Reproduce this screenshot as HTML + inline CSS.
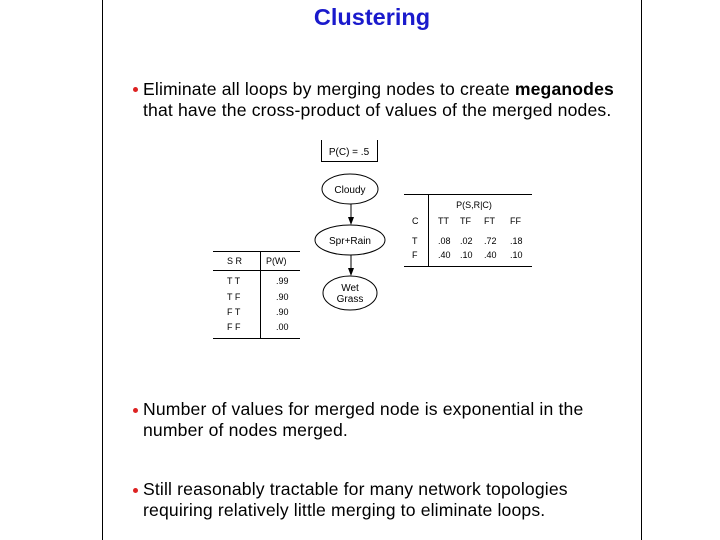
<!DOCTYPE html>
<html><head><style>
body{margin:0;width:720px;height:540px;background:#fff;position:relative;overflow:hidden;font-family:"Liberation Sans",sans-serif}
.vl{position:absolute;top:0;width:1px;height:540px;background:#000}
.t{position:absolute;white-space:nowrap;color:#000}
.b{position:absolute;font-size:17.6px;line-height:21px;left:143px;white-space:nowrap;letter-spacing:0.15px}
.dot{position:absolute;width:5px;height:5px;border-radius:50%;background:#d22;left:133px}
</style></head><body>
<div class="vl" style="left:102px"></div>
<div class="vl" style="left:641px"></div>
<div class="t" style="left:0;width:744px;text-align:center;top:4px;font-size:23.5px;font-weight:bold;color:#1a1acc">Clustering</div>
<div class="dot" style="top:87px"></div>
<div class="b" style="top:79px">Eliminate all loops by merging nodes to create <b>meganodes</b><br>that have the cross-product of values of the merged nodes.</div>
<div class="dot" style="top:408px"></div>
<div class="b" style="top:399px">Number of values for merged node is exponential in the<br>number of nodes merged.</div>
<div class="dot" style="top:488px"></div>
<div class="b" style="top:479px">Still reasonably tractable for many network topologies<br>requiring relatively little merging to eliminate loops.</div>
<svg width="720" height="540" style="position:absolute;left:0;top:0" font-family="Liberation Sans,sans-serif" font-size="10">
<g stroke="#000" fill="none" stroke-width="1">
<path d="M321.5 140V161.5H377.5V140"/>
<ellipse cx="350" cy="189" rx="28" ry="15"/>
<ellipse cx="350" cy="240" rx="35" ry="15"/>
<ellipse cx="350" cy="293" rx="27" ry="17"/>
<line x1="351" y1="204" x2="351" y2="220"/>
<line x1="351" y1="255" x2="351" y2="271"/>
<path d="M404 194.5H532M404 266.5H532M428.5 194V266"/>
<path d="M213 251.5H300M213 270.5H300M213 338.5H300M260.5 251V338"/>
</g>
<g fill="#000"><path d="M348 217l3 8 3-8z"/><path d="M348 268l3 8 3-8z"/></g>
<text x="349" y="155" text-anchor="middle">P(C) = .5</text>
<text x="350" y="193" text-anchor="middle">Cloudy</text>
<text x="350" y="244" text-anchor="middle">Spr+Rain</text>
<text x="350" y="291" text-anchor="middle">Wet</text>
<text x="350" y="302" text-anchor="middle">Grass</text>
<text x="474" y="208" text-anchor="middle" font-size="9">P(S,R|C)</text>
<g font-size="9">
<text x="412" y="224">C</text><text x="438" y="224">TT</text><text x="460" y="224">TF</text><text x="484" y="224">FT</text><text x="510" y="224">FF</text>
<text x="412" y="244">T</text><text x="438" y="244">.08</text><text x="460" y="244">.02</text><text x="484" y="244">.72</text><text x="510" y="244">.18</text>
<text x="412" y="258">F</text><text x="438" y="258">.40</text><text x="460" y="258">.10</text><text x="484" y="258">.40</text><text x="510" y="258">.10</text>
<text x="227" y="264">S R</text><text x="266" y="264">P(W)</text>
<text x="227" y="284">T T</text><text x="276" y="284">.99</text>
<text x="227" y="300">T F</text><text x="276" y="300">.90</text>
<text x="227" y="315">F T</text><text x="276" y="315">.90</text>
<text x="227" y="330">F F</text><text x="276" y="330">.00</text>
</g>
</svg>
</body></html>
